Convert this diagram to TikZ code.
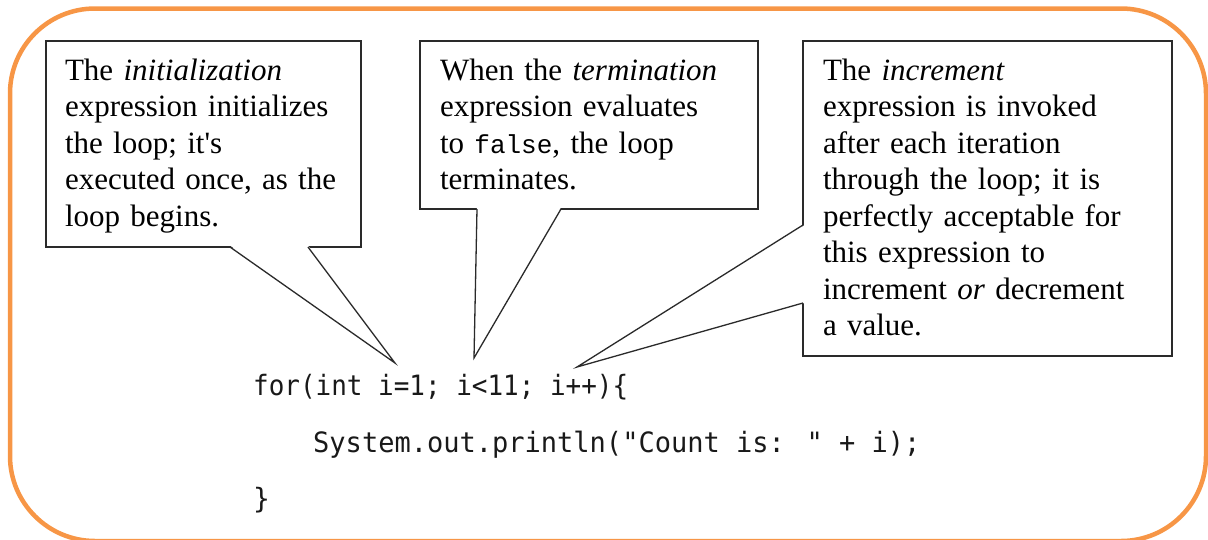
\documentclass[tikz,border=0pt]{standalone}
\usepackage{fontspec}
\usetikzlibrary{calc}
\newfontfamily\callfont{Liberation Serif}
\newfontfamily\callmono{Liberation Mono}
\newfontfamily\codefont{DejaVu Sans Mono}
\definecolor{frameorange}{HTML}{F79646}
\definecolor{boxline}{HTML}{2A2A2A}
\begin{document}
\begin{tikzpicture}[x=1pt,y=-1pt,
  frame/.style={draw=frameorange, line width=4.5pt, rounded corners=85pt},
  callbox/.style={draw=boxline, line width=1.5pt, fill=white, anchor=north west,
    inner ysep=0pt, outer sep=0pt, align=left, text height=39pt,
    font={\callfont\fontsize{31}{36.5}\selectfont}},
  pointer/.style={draw=boxline, line width=1.3pt},
  codeline/.style={anchor=base west, inner sep=0pt, text=black!90,
    font={\codefont\fontsize{28}{34}\selectfont}}]
\useasboundingbox (0,0) rectangle (1208,539);
\draw[frame] (10,8.5) rectangle (1206,541);

\node[callbox, text width=277pt, inner xsep=19pt, text depth=167pt] (b1) at (46,41)
  {The \textit{initialization}\\expression initializes\\the loop; it's\\executed once, as the\\loop begins.};
\node[callbox, text width=298pt, inner xsep=20pt, text depth=129pt] (b2) at (420,41)
  {When the \textit{termination}\\expression evaluates\\to {\callmono\fontsize{26}{36.5}\selectfont false}, the loop\\terminates.};
\node[callbox, text width=329pt, inner xsep=20pt, text depth=276pt] (b3) at (803,41)
  {The \textit{increment}\\expression is invoked\\after each iteration\\through the loop; it is\\perfectly acceptable for\\this expression to\\increment \textit{or} decrement\\a value.};

\coordinate (t1) at (395,363);
\coordinate (t2) at (474,358);
\coordinate (t3) at (577,367);

\fill[white] ($(b1.south west)+(184,-1.5)$) -- (t1) -- ($(b1.south west)+(262,-1.5)$) -- cycle;
\draw[pointer] ($(b1.south west)+(184,0)$) -- (t1) -- ($(b1.south west)+(262,0)$);
\fill[white] ($(b2.south west)+(57,-1.5)$) -- (t2) -- ($(b2.south west)+(141,-1.5)$) -- cycle;
\draw[pointer] ($(b2.south west)+(57,0)$) -- (t2) -- ($(b2.south west)+(141,0)$);
\fill[white] ($(b3.north west)+(1.5,184)$) -- (t3) -- ($(b3.north west)+(1.5,262)$) -- cycle;
\draw[pointer] ($(b3.north west)+(0,184)$) -- (t3) -- ($(b3.north west)+(0,262)$);

\node[codeline] (c1) at (253,395) {\scalebox{0.927}[1]{for(int i=1; i<11; i++)\{}};
\node[codeline] (c2) at (313,452) {\scalebox{0.965}[1]{System.out.println("Count is: " + i);}};
\node[codeline] (c3) at (253,508) {\}};
\end{tikzpicture}
\end{document}
